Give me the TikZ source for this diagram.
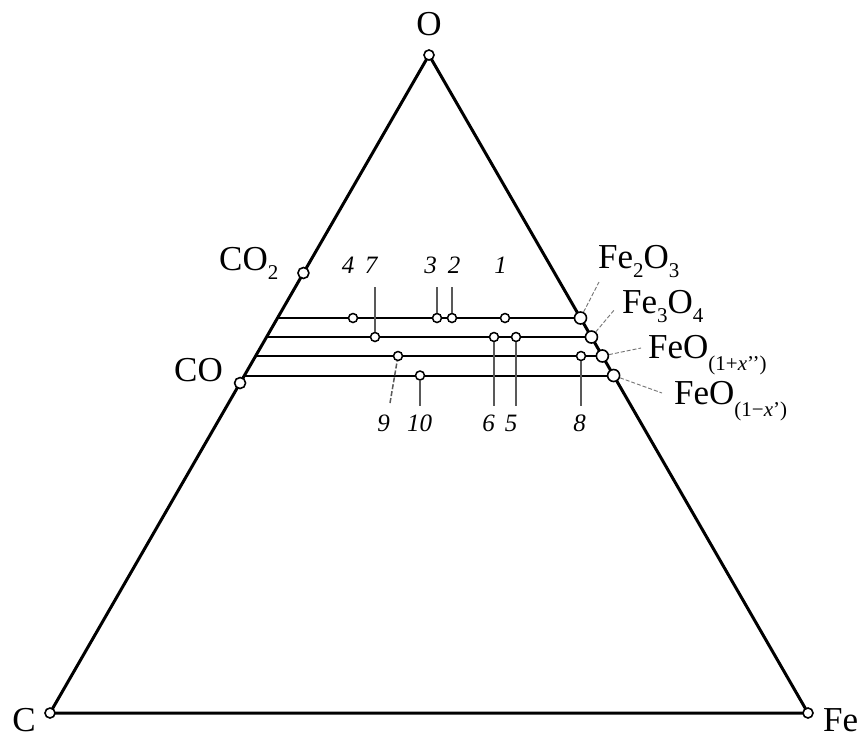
\documentclass[tikz,border=0pt]{standalone}
\usepackage{fontspec}
\setmainfont{Liberation Serif}
\usetikzlibrary{calc}
\newcommand{\sbx}[2][9pt]{\raisebox{-#1}{\fontsize{21}{24}\selectfont #2}}
\begin{document}
\begin{tikzpicture}[x=1pt,y=-1pt,
  tri/.style={line width=3pt},
  hline/.style={line width=2pt},
  tick/.style={line width=1.5pt, draw=black!65},
  leader/.style={line width=0.9pt, draw=black!55, dash pattern=on 4pt off 2pt},
  pt/.style={circle, draw, fill=white, line width=1.5pt, inner sep=0pt, minimum size=9pt},
  bigpt/.style={circle, draw, fill=white, line width=1.6pt, inner sep=0pt, minimum size=12pt},
  vtx/.style={circle, draw, fill=white, line width=1.6pt, inner sep=0pt, minimum size=10pt},
  lab/.style={inner sep=0pt, font=\fontsize{35}{40}\selectfont},
  num/.style={inner sep=0pt, font=\fontsize{25}{28}\selectfont\itshape}]
\useasboundingbox (0,0) rectangle (864,740);
\fill[white] (0,0) rectangle (864,740);
% vertices
\coordinate (C) at (50,713);
\coordinate (O) at (429,55);
\coordinate (Fe) at (808,713);
\draw[tri] (C) -- (O) -- (Fe) -- cycle;
% points on the sides
\coordinate (L1) at ($(C)!0.6003!(O)$);
\coordinate (L2) at ($(C)!0.5714!(O)$);
\coordinate (L3) at ($(C)!0.5426!(O)$);
\coordinate (L4) at ($(C)!0.5129!(O)$);
\coordinate (R1) at ($(Fe)!0.6003!(O)$);
\coordinate (R2) at ($(Fe)!0.5714!(O)$);
\coordinate (R3) at ($(Fe)!0.5426!(O)$);
\coordinate (R4) at ($(Fe)!0.5129!(O)$);
% horizontal lines
\draw[hline] (L1) -- (R1);
\draw[hline] (L2) -- (R2);
\draw[hline] (L3) -- (R3);
\draw[hline] (L4) -- (R4);
% tick lines
\coordinate (t7) at (375,287);
\coordinate (t3) at (437,287);
\coordinate (t2) at (452,287);
\coordinate (b9) at (390,403);
\coordinate (b10) at (420,405.5);
\coordinate (b6) at (494,405.5);
\coordinate (b5) at (516,405.5);
\coordinate (b8) at (581,405.5);
\node[pt] (p4) at (353,318) {};
\node[pt] (p3) at (437,318) {};
\node[pt] (p2) at (452,318) {};
\node[pt] (p1) at (505,318) {};
\node[pt] (p7) at (375,337) {};
\node[pt] (p6) at (494,337) {};
\node[pt] (p5) at (516,337) {};
\node[pt] (p9) at (398,356) {};
\node[pt] (p8) at (581,356) {};
\node[pt] (p10) at (420,375.5) {};
\draw[tick] (t7) -- (p7);
\draw[tick] (t3) -- (p3);
\draw[tick] (t2) -- (p2);
\draw[tick, dash pattern=on 5pt off 2pt] (b9) -- (p9);
\draw[tick] (b10) -- (p10);
\draw[tick] (b6) -- (p6);
\draw[tick] (b5) -- (p5);
\draw[tick] (b8) -- (p8);
% oxide points
\node[bigpt] (ox1) at (R1) {};
\node[bigpt] (ox2) at (R2) {};
\node[bigpt] (ox3) at (R3) {};
\node[bigpt] (ox4) at (R4) {};
\coordinate (e1) at (599,282);
\coordinate (e2) at (615,309);
\coordinate (e3) at (641,348);
\coordinate (e4) at (662,393);
\draw[leader] (ox1) -- (e1);
\draw[leader] (ox2) -- (e2);
\draw[leader] (ox3) -- (e3);
\draw[leader] (ox4) -- (e4);
% vertex and side circles
\node[vtx] (vO) at (O) {};
\node[vtx] (vC) at (C) {};
\node[vtx] (vFe) at (Fe) {};
\node[bigpt, minimum size=11pt] (vCO2) at ($(C)!0.6687!(O)$) {};
\node[bigpt, minimum size=11pt] (vCO) at ($(C)!0.5015!(O)$) {};
% labels
\node[lab, anchor=base] (tO) at (429,35) {O};
\node[lab, anchor=base] (tC) at (24,731) {C};
\node[lab, anchor=base west] (tFe) at (823,731) {Fe};
\node[lab, anchor=base west] (tCO2) at (219,270) {CO\sbx{2}};
\node[lab, anchor=base east] (tCO) at (223,381) {CO};
\node[lab, anchor=base west] (tFe2O3) at (598,268) {Fe\sbx{2}O\sbx{3}};
\node[lab, anchor=base west] (tFe3O4) at (622,313) {Fe\sbx{3}O\sbx{4}};
\node[lab, anchor=base west] (tFeOa) at (648,358) {FeO\sbx[12pt]{(1+\textit{x}'{}')}};
\node[lab, anchor=base west] (tFeOb) at (674,404) {FeO\sbx[12pt]{(1−\textit{x}')}};
% numbers
\node[num] (n4) at (348,265) {4};
\node[num] (n7) at (371,265) {7};
\node[num] (n3) at (430.5,265) {3};
\node[num] (n2) at (454,265) {2};
\node[num] (n1) at (500.5,265) {1};
\node[num] (n9) at (383.5,423.5) {9};
\node[num] (n10) at (419.5,423.5) {10};
\node[num] (n6) at (488.5,423.5) {6};
\node[num] (n5) at (511,423.5) {5};
\node[num] (n8) at (579.5,423.5) {8};
\end{tikzpicture}
\end{document}
